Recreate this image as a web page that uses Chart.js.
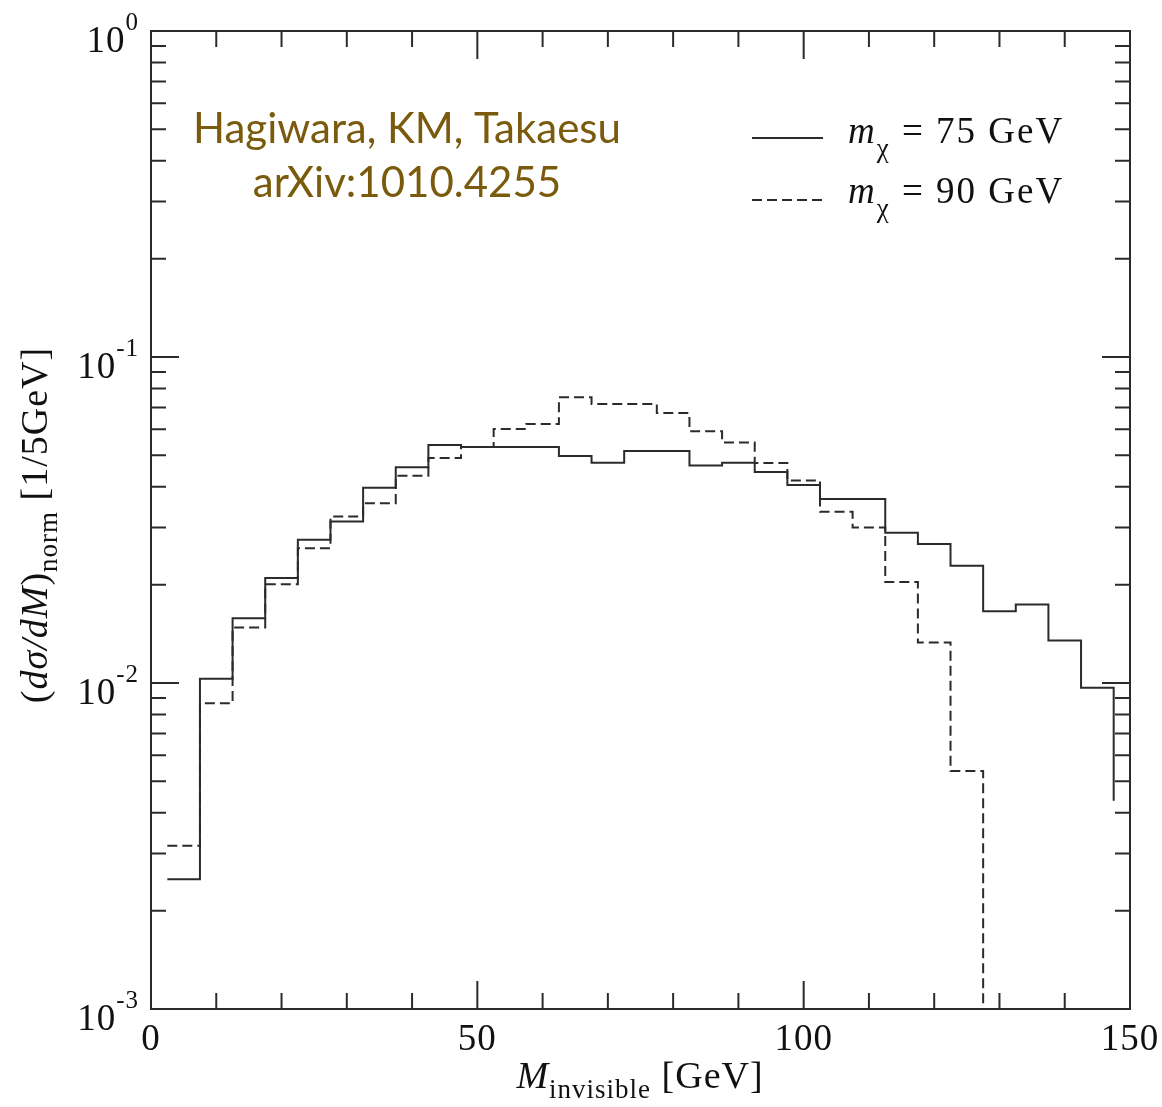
<!DOCTYPE html>
<html>
<head>
<meta charset="utf-8">
<script src="https://cdn.jsdelivr.net/npm/chart.js@4.4.0/dist/chart.umd.min.js"></script>
<style>
    html, body { margin: 0; padding: 0; background: #fff; }
    #wrap { width: 1162px; height: 1107px; position: relative; }
</style>
</head>
<body>
<div id="wrap"><canvas id="grafica"></canvas></div>
<script>
// left edges of the 5 GeV bins, the last entry closes the histogram
const binEdges = [2.5, 7.5, 12.5, 17.5, 22.5, 27.5, 32.5, 37.5, 42.5, 47.5,
    52.5, 57.5, 62.5, 67.5, 72.5, 77.5, 82.5, 87.5, 92.5, 97.5,
    102.5, 107.5, 112.5, 117.5, 122.5, 127.5, 132.5, 137.5, 142.5, 147.5]

// m_chi = 75 GeV (solid)
const dist75 = [0.00250, 0.0103, 0.0158, 0.0210, 0.0275, 0.0313, 0.0397, 0.0459, 0.0537, 0.0530,
    0.0530, 0.0530, 0.0497, 0.0474, 0.0515, 0.0515, 0.0465, 0.0474, 0.0444, 0.0405,
    0.0367, 0.0367, 0.0289, 0.0267, 0.0229, 0.0166, 0.0174, 0.0135, 0.00967, 0.00435]

// m_chi = 90 GeV (dashed), drops below 1e-3 after 127.5
const dist90 = [0.00317, 0.00867, 0.0148, 0.0201, 0.0259, 0.0324, 0.0356, 0.0432, 0.0490, 0.0530,
    0.0601, 0.0623, 0.0752, 0.0717, 0.0717, 0.0673, 0.0592, 0.0547, 0.0473, 0.0418,
    0.0335, 0.0300, 0.0204, 0.0133, 0.00537, 0.00001, null, null, null, null]

const xMajor = [0, 50, 100, 150]
const xMinor = [10, 20, 30, 40, 60, 70, 80, 90, 110, 120, 130, 140]
const xTickLabels = ['0', '50', '100', '150']
const yMajor = [0.001, 0.01, 0.1, 1]
const yExponents = ['-3', '-2', '-1', '0']
const legendMasses = ['75 GeV', '90 GeV']

const serif = '"Liberation Serif", "Times New Roman", serif'
const ink = '#2b2b2b'

function puntos(vals) {
    return binEdges.map((x, i) => ({ x: x, y: vals[i] }))
}

// draws a row of text pieces [text, font, dy]
function piezas(ctx, parts, x, y, align) {
    let w = 0
    parts.forEach(p => { ctx.font = p[1]; w += ctx.measureText(p[0]).width })
    let cx = align == 'center' ? x - w / 2 : (align == 'right' ? x - w : x)
    parts.forEach(p => {
        ctx.font = p[1]
        ctx.fillText(p[0], cx, y + (p[2] || 0))
        cx += ctx.measureText(p[0]).width
    })
}

const marco = {
    id: 'marco',
    afterDatasetsDraw(chart) {
        const ctx = chart.ctx
        const a = chart.chartArea
        const x = chart.scales.x
        const y = chart.scales.y
        ctx.save()
        ctx.strokeStyle = ink
        ctx.lineWidth = 2
        ctx.strokeRect(a.left, a.top, a.right - a.left, a.bottom - a.top)
        ctx.beginPath()
        const tx = (v, len) => {
            const px = x.getPixelForValue(v)
            ctx.moveTo(px, a.bottom); ctx.lineTo(px, a.bottom - len)
            ctx.moveTo(px, a.top); ctx.lineTo(px, a.top + len)
        }
        const ty = (v, len) => {
            const py = y.getPixelForValue(v)
            ctx.moveTo(a.left, py); ctx.lineTo(a.left + len, py)
            ctx.moveTo(a.right, py); ctx.lineTo(a.right - len, py)
        }
        xMajor.forEach(v => tx(v, 28))
        xMinor.forEach(v => tx(v, 16))
        yMajor.forEach(v => ty(v, 28))
        yMajor.slice(0, 3).forEach(d => {
            for (let m = 2; m <= 9; m++) ty(m * d, 15)
        })
        ctx.stroke()
        ctx.restore()
    },
    afterDraw(chart) {
        const ctx = chart.ctx
        const x = chart.scales.x
        const y = chart.scales.y
        ctx.save()
        ctx.fillStyle = '#111'
        ctx.textBaseline = 'alphabetic'
        ctx.textAlign = 'left'

        // tick labels
        ctx.letterSpacing = '1px'
        xMajor.forEach((v, i) => {
            piezas(ctx, [[xTickLabels[i], '37px ' + serif]], x.getPixelForValue(v), 1050, 'center')
        })
        yMajor.forEach((v, i) => {
            const py = y.getPixelForValue(v)
            piezas(ctx, [['10', '37px ' + serif], [yExponents[i], '25px ' + serif, -22]], 139, py + 21, 'right')
        })

        // axis titles
        ctx.letterSpacing = '1px'
        piezas(ctx, [['M', 'italic 38px ' + serif], ['invisible', '27px ' + serif, 10], [' [GeV]', '38px ' + serif]], 640, 1088, 'center')
        ctx.save()
        ctx.translate(47, 525)
        ctx.rotate(-Math.PI / 2)
        piezas(ctx, [['(', '38px ' + serif], ['dσ/dM', 'italic 38px ' + serif], [')', '38px ' + serif],
            ['norm', '27px ' + serif, 10], [' [1/5GeV]', '38px ' + serif]], 0, 0, 'center')
        ctx.restore()

        // legend
        ctx.strokeStyle = ink
        ctx.lineWidth = 2
        ctx.beginPath()
        ctx.moveTo(752, 138); ctx.lineTo(823, 138)
        ctx.stroke()
        ctx.setLineDash([10, 5])
        ctx.beginPath()
        ctx.moveTo(752, 200); ctx.lineTo(823, 200)
        ctx.stroke()
        ctx.setLineDash([])
        ctx.letterSpacing = '2px'
        legendMasses.forEach((t, i) => {
            piezas(ctx, [['m', 'italic 37px ' + serif], ['χ', '27px ' + serif, 14], [' = ' + t, '37px ' + serif]], 848, 143 + i * 60, 'left')
        })

        // credit
        ctx.letterSpacing = '0px'
        ctx.fillStyle = '#7a5a0c'
        piezas(ctx, [['Hagiwara, KM, Takaesu', '42px Lato, sans-serif']], 407, 143, 'center')
        piezas(ctx, [['arXiv:1010.4255', '42px Lato, sans-serif']], 407, 197, 'center')
        ctx.restore()
    }
}

const ctx = document.getElementById('grafica').getContext('2d')
const chart = new Chart(ctx, {
    type: 'line',
    data: {
        datasets: [{
            label: 'm_chi = 75 GeV',
            data: puntos(dist75),
            borderColor: ink,
            borderWidth: 2,
            stepped: 'before',
            pointRadius: 0,
            fill: false
        }, {
            label: 'm_chi = 90 GeV',
            data: puntos(dist90),
            borderColor: ink,
            borderWidth: 2,
            borderDash: [10, 5],
            stepped: 'before',
            pointRadius: 0,
            spanGaps: false,
            fill: false
        }]
    },
    options: {
        responsive: true,
        maintainAspectRatio: false,
        animation: false,
        layout: { padding: { left: 151, right: 32, top: 31, bottom: 98 } },
        plugins: { legend: { display: false }, tooltip: { enabled: false } },
        scales: {
            x: { type: 'linear', min: 0, max: 150, display: false },
            y: { type: 'logarithmic', min: 0.001, max: 1, display: false }
        }
    },
    plugins: [marco]
})
</script>
</body>
</html>
